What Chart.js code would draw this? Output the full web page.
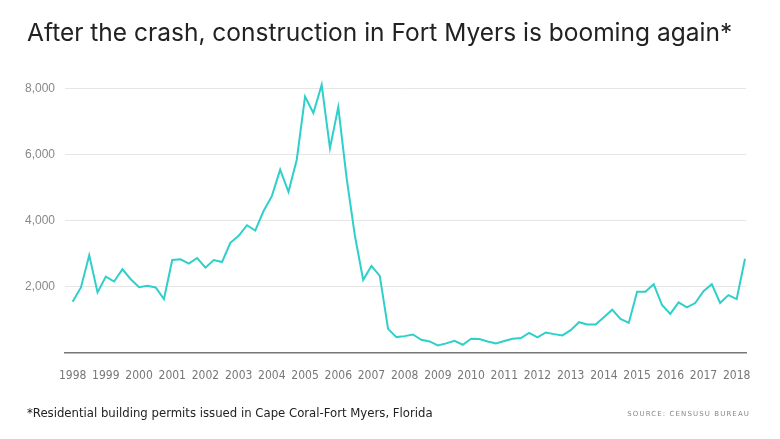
<!DOCTYPE html>
<html>
<head>
<meta charset="utf-8">
<script src="https://cdn.jsdelivr.net/npm/chart.js@4.4.0/dist/chart.umd.min.js"></script>
<style>
  html, body { margin: 0; padding: 0; background: #fff; }
  #wrap { position: relative; width: 780px; height: 439px; overflow: hidden; }
  #chart { position: absolute; left: 0; top: 0; }
  #title { position: absolute; left: 27px; top: 17px; font-family: "Inter", sans-serif; font-size: 24.5px; font-weight: 400; color: #222; white-space: nowrap; }
  #note { position: absolute; left: 27px; top: 405px; font-family: "Liberation Sans Narrow", "DejaVu Sans Condensed", sans-serif; font-size: 13px; color: #222; white-space: nowrap; }
  #source { position: absolute; right: 30px; top: 410px; font-family: "DejaVu Sans", sans-serif; font-size: 7px; letter-spacing: 1.1px; color: #888; white-space: nowrap; }
</style>
</head>
<body>
<div id="wrap">
  <canvas id="chart" width="780" height="439"></canvas>
  <div id="title">After the crash, construction in Fort Myers is booming again*</div>
  <div id="note">*Residential building permits issued in Cape Coral-Fort Myers, Florida</div>
  <div id="source">SOURCE: CENSUSU BUREAU</div>
</div>
<script>
// quarterly permits, 1998 Q1 .. 2018 Q2
let firstYear = 1998;
let permits = [
  1550, 1980, 2950, 1830, 2310, 2160, 2530, 2230,   // 1998-1999
  1990, 2030, 1980, 1630, 2810, 2830, 2700, 2870,   // 2000-2001
  2580, 2810, 2750, 3330, 3540, 3860, 3700, 4290,   // 2002-2003
  4740, 5540, 4870, 5840, 7750, 7250, 8100, 6190,   // 2004-2005
  7430, 5300, 3550, 2210, 2630, 2330,  730,  480,   // 2006-2007
   510,  560,  400,  350,  230,  290,  370,  250,   // 2008-2009
   430,  420,  350,  290,  360,  430,  450,  610,   // 2010-2011
   470,  620,  570,  530,  690,  930,  860,  860,   // 2012-2013
  1080, 1310, 1030,  910, 1850, 1850, 2080, 1450,   // 2014-2015
  1180, 1530, 1380, 1510, 1870, 2080, 1510, 1750,   // 2016-2017
  1630, 2850                                        // 2018
];
let yearTicks = [1998, 1999, 2000, 2001, 2002, 2003, 2004, 2005, 2006, 2007, 2008,
                 2009, 2010, 2011, 2012, 2013, 2014, 2015, 2016, 2017, 2018];
let valueTicks = [2000, 4000, 6000, 8000];

let points = permits.map((v, i) => ({ x: firstYear + i / 4, y: v }));

let ctx = document.querySelector("#chart");
new Chart(ctx, {
  type: 'line',
  data: {
    datasets: [{
      data: points,
      borderColor: "#2fcfca",
      borderWidth: 2,
      pointRadius: 0,
      tension: 0,
      fill: false
    }]
  },
  options: {
    responsive: false,
    animation: false,
    layout: { padding: { top: 75, right: 34, left: 0, bottom: 0 } },
    plugins: { legend: { display: false }, tooltip: { enabled: false } },
    scales: {
      x: {
        type: 'linear',
        min: 1997.77,
        max: 2018.28,
        afterBuildTicks: (scale) => { scale.ticks = yearTicks.map(v => ({ value: v })); },
        afterFit: (scale) => { scale.height = 86; },
        grid: { display: false },
        border: { display: true, color: "#777", width: 1.5 },
        ticks: {
          autoSkip: false,
          maxRotation: 0,
          padding: 8,
          color: "#777",
          font: { family: "Liberation Sans Narrow, DejaVu Sans Condensed, sans-serif", size: 12 },
          callback: (v) => String(v)
        }
      },
      y: {
        min: 0,
        max: 8400,
        afterBuildTicks: (scale) => { scale.ticks = valueTicks.map(v => ({ value: v })); },
        afterFit: (scale) => { scale.width = 65; },
        grid: { color: "#e6e6e6", lineWidth: 1, drawTicks: false },
        border: { display: false },
        ticks: {
          padding: 10,
          color: "#888",
          font: { family: "Liberation Sans, Arial, sans-serif", size: 12 },
          callback: (v) => v.toLocaleString('en-US')
        }
      }
    }
  }
});
</script>
</body>
</html>
